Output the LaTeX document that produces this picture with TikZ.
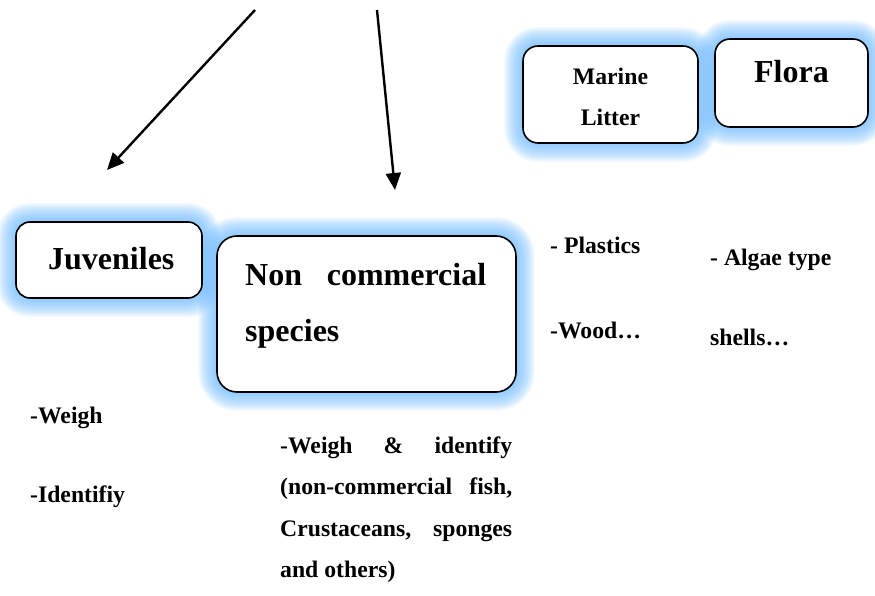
\documentclass[tikz,border=0pt]{standalone}
\usepackage{fontspec}
\setmainfont{Liberation Serif}
\usetikzlibrary{arrows.meta,backgrounds}
\definecolor{glowblue}{RGB}{110,185,255}
\tikzset{
  box/.style={draw=black, line width=1.6pt, fill=white, inner sep=0pt},
  big/.style={font=\fontsize{32}{38}\selectfont\bfseries, inner sep=0pt, anchor=base west},
  bigc/.style={font=\fontsize{32}{38}\selectfont\bfseries, inner sep=0pt, anchor=base},
  small/.style={font=\fontsize{23.7}{28}\selectfont\bfseries, inner sep=0pt, anchor=base west},
  smallc/.style={font=\fontsize{23.7}{28}\selectfont\bfseries, inner sep=0pt, anchor=base},
  arr/.style={line width=2.4pt, -{Triangle[length=17pt,width=15pt]}},
}
\newcommand{\myglow}[2]{%
  \begin{pgfonlayer}{background}
  \foreach \d in {1,...,18}{
    \pgfmathsetmacro\s{1*\d}
    \pgfmathsetmacro\r{#2+1*\d}
    \fill[glowblue, fill opacity=0.066, rounded corners=\r pt]
      ([shift={(-\s pt,\s pt)}]#1.north west) rectangle ([shift={(\s pt,-\s pt)}]#1.south east);
  }
  \end{pgfonlayer}}
\begin{document}
\begin{tikzpicture}[x=1pt,y=-1pt]
\useasboundingbox (0,0) rectangle (875,596);
\clip (0,0) rectangle (875,596);
% boxes
\node[box, rounded corners=14pt, minimum width=186pt, minimum height=76pt] (juv) at (109,260) {};
\node[box, rounded corners=20pt, minimum width=299pt, minimum height=156pt] (ncs) at (366.5,314) {};
\node[box, rounded corners=15pt, minimum width=175pt, minimum height=97pt] (mlit) at (610.5,94.5) {};
\node[box, rounded corners=15pt, minimum width=153pt, minimum height=88pt] (flora) at (791.5,83) {};
\myglow{juv}{14}
\myglow{ncs}{20}
\myglow{mlit}{15}
\myglow{flora}{15}
% box texts
\node[big] (juvt) at (48,269) {Juveniles};
\node[big] (ncst1) at (245,285) {\makebox[241pt][s]{Non\hfill commercial}};
\node[big] (ncst2) at (245,341) {species};
\node[smallc] (mlt1) at (610.5,85) {Marine};
\node[smallc] (mlt2) at (610.5,126) {Litter};
\node[bigc] (flt) at (791.5,83) {Flora};
% free texts
\node[small] (plast) at (550,253) {- Plastics};
\node[small] (wood) at (550,338) {-Wood…};
\node[small] (algae) at (710,265) {- Algae type};
\node[small] (shells) at (710,345) {shells…};
\node[small] (weigh) at (30,423) {-Weigh};
\node[small] (ident) at (30,502) {-Identifiy};
\node[small] (r1) at (280,453) {\makebox[232pt][s]{-Weigh\hfill\&\hfill identify}};
\node[small] (r2) at (280,494) {\makebox[232pt][s]{(non-commercial\hfill fish,}};
\node[small] (r3) at (280,536) {\makebox[232pt][s]{Crustaceans,\hfill sponges}};
\node[small] (r4) at (280,577) {and others)};
% arrows
\coordinate (a1s) at (255,10);
\coordinate (a1e) at (107,170);
\coordinate (a2s) at (377,10);
\coordinate (a2e) at (395,190);
\draw[arr] (a1s) -- (a1e);
\draw[arr] (a2s) -- (a2e);
\end{tikzpicture}
\end{document}
